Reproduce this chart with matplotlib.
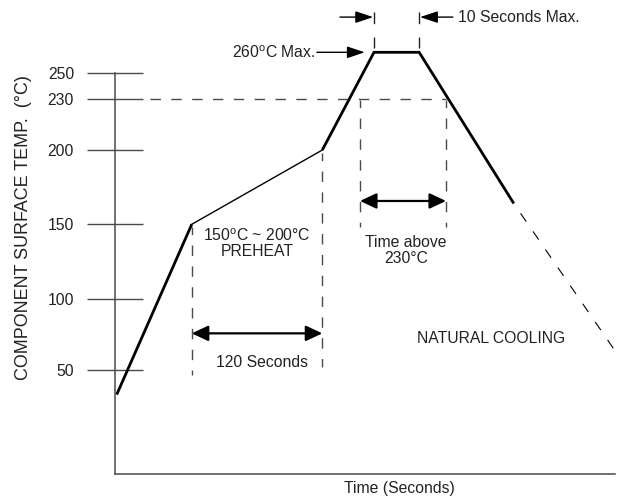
import numpy as np
import matplotlib
matplotlib.use("Agg")
import matplotlib.pyplot as plt
from matplotlib.patches import ArrowStyle

plt.rcParams['font.family'] = ['Liberation Sans', 'DejaVu Sans']
plt.rcParams['mathtext.fontset'] = 'custom'
plt.rcParams['mathtext.rm'] = 'Liberation Sans'
plt.rcParams['lines.scale_dashes'] = False

# ---------------- data (time in s, temperature in degC) ----------------
profile_time = [0, 69, 189, 236.5, 278, 365]
profile_temp = [33, 150, 200, 260, 260, 164]
cooling_time = [365, 462.6]
cooling_temp = [164, 58.6]

y_ticks = [50, 100, 150, 200, 230, 250]
y_tick_labels = ['50', '100', '150', '200', '230', '250']

preheat_start, preheat_end = 69, 189
above_start, above_end = 223.6, 302.7
peak_start, peak_end = 236.5, 278
reflow_temp = 230

# schematic (non-linear) temperature axis of the original drawing
scale_temp = [-200, 50, 100, 150, 200, 230, 250, 260, 500]
scale_pos = [727.8, 370.3, 298.7, 224.3, 150.0, 98.7, 72.7, 52.3, -427.7]


def fwd(T):
    return -np.interp(np.asarray(T, float), scale_temp, scale_pos)


def inv(v):
    return np.interp(-np.asarray(v, float), scale_pos[::-1], scale_temp[::-1])


DARK = '#222222'
GRAY = '#4a4a4a'
FS = 11.3

fig = plt.figure(figsize=(6.3, 5.0), dpi=100)
ax = fig.add_axes([115 / 630, (500 - 474.3) / 500, (630 - 115) / 630, 474.3 / 500])
ax.set_yscale('function', functions=(fwd, inv))
ax.set_xlim(-1.56, 471.8)
ax.set_ylim(float(inv(-474.3)), float(inv(0)))

for s in ['top', 'right']:
    ax.spines[s].set_visible(False)
for s in ['left', 'bottom']:
    ax.spines[s].set_color(GRAY)
    ax.spines[s].set_linewidth(1.1)
ax.spines['left'].set_bounds(ax.get_ylim()[0], 250)
ax.spines['bottom'].set_bounds(ax.get_xlim()[0], 458)

ax.set_xticks([])
ax.set_yticks(y_ticks)
ax.set_yticklabels(y_tick_labels)
ax.tick_params(axis='y', direction='inout', length=41, width=1.0, color=GRAY,
               pad=9, labelsize=FS, labelcolor=DARK)
ax.set_facecolor('none')

# ---------------- profile ----------------
ax.plot(profile_time[0:2], profile_temp[0:2], color='black', lw=2.0,
        solid_capstyle='butt')
ax.plot(profile_time[1:3], profile_temp[1:3], color='black', lw=1.0)
ax.plot(profile_time[2:], profile_temp[2:], color='black', lw=2.0,
        solid_joinstyle='miter', solid_capstyle='butt')
ax.plot(cooling_time, cooling_temp, color='black', lw=0.8,
        linestyle=(7.2, (7.2, 8.6)))

# ---------------- guide lines ----------------
dash = (0, (7.5, 7.5))
vdash = (2, (7.5, 7.5))
ax.plot([30.6, above_end], [reflow_temp, reflow_temp], color=GRAY, lw=1.0,
        linestyle=dash)
ax.plot([preheat_start, preheat_start], [148, 47], color=GRAY, lw=1.0, linestyle=vdash)
ax.plot([preheat_end, preheat_end], [198, 52], color=GRAY, lw=1.0, linestyle=vdash)
ax.plot([above_start, above_start], [229, 148], color=GRAY, lw=1.0, linestyle=vdash)
ax.plot([above_end, above_end], [229, 148], color=GRAY, lw=1.0, linestyle=vdash)
for tx in (peak_start, peak_end):
    ax.plot([tx, tx], [280.3, 262], color=DARK, lw=1.0, linestyle=(0, (8.4, 9.6)))

# ---------------- arrows ----------------
dbl = ArrowStyle('<|-|>', head_length=1.0, head_width=0.47)
one = ArrowStyle('-|>', head_length=1.08, head_width=0.36)
ax.annotate('', xy=(preheat_end, 75.8), xytext=(preheat_start, 75.8),
            arrowprops=dict(arrowstyle=dbl, mutation_scale=10, lw=1.6,
                            color='black', shrinkA=0, shrinkB=0))
ax.annotate('', xy=(above_end, 165.7), xytext=(above_start, 165.7),
            arrowprops=dict(arrowstyle=dbl, mutation_scale=10, lw=1.6,
                            color='black', shrinkA=0, shrinkB=0))
ax.annotate('', xy=(peak_start - 0.8, 277.6), xytext=(205.2, 277.6),
            arrowprops=dict(arrowstyle=one, mutation_scale=10, lw=1.0,
                            color='black', shrinkA=0, shrinkB=0))
ax.annotate('', xy=(peak_end + 0.8, 277.6), xytext=(309, 277.6),
            arrowprops=dict(arrowstyle=one, mutation_scale=10, lw=1.0,
                            color='black', shrinkA=0, shrinkB=0))
ax.annotate('', xy=(228, 260), xytext=(184, 260),
            arrowprops=dict(arrowstyle=one, mutation_scale=10, lw=1.0,
                            color='black', shrinkA=0, shrinkB=0))

# ---------------- texts ----------------
kw = dict(fontsize=FS, color=DARK)
ax.text(313.4, 277.6, '10 Seconds Max.', ha='left', va='center', **kw)
ax.text(182.5, 260, '260' + r'$^{\mathrm{o}}$' + 'C Max.', ha='right', va='center', **kw)
ax.text(129, 142.3, '150' + r'$^{\mathrm{o}}$' + 'C ~ 200°C', ha='center', va='center', **kw)
ax.text(129, 132, 'PREHEAT', ha='center', va='center', **kw)
ax.text(134, 55.1, '120 Seconds', ha='center', va='center', **kw)
ax.text(265.7, 137.5, 'Time above', ha='center', va='center', **kw)
ax.text(265.7, 127.3, '230°C', ha='center', va='center', **kw)
ax.text(344.5, 72.1, 'NATURAL COOLING', ha='center', va='center', **kw)

fig.text(399 / 630, 1 - 488 / 500, 'Time (Seconds)', ha='center', va='center', **kw)
fig.text(23.5 / 630, 1 - 228 / 500, 'COMPONENT SURFACE TEMP.  (°C)', ha='center',
         va='center', rotation=90, fontsize=12.9, color=DARK)

fig.savefig('out.png', dpi=100)
